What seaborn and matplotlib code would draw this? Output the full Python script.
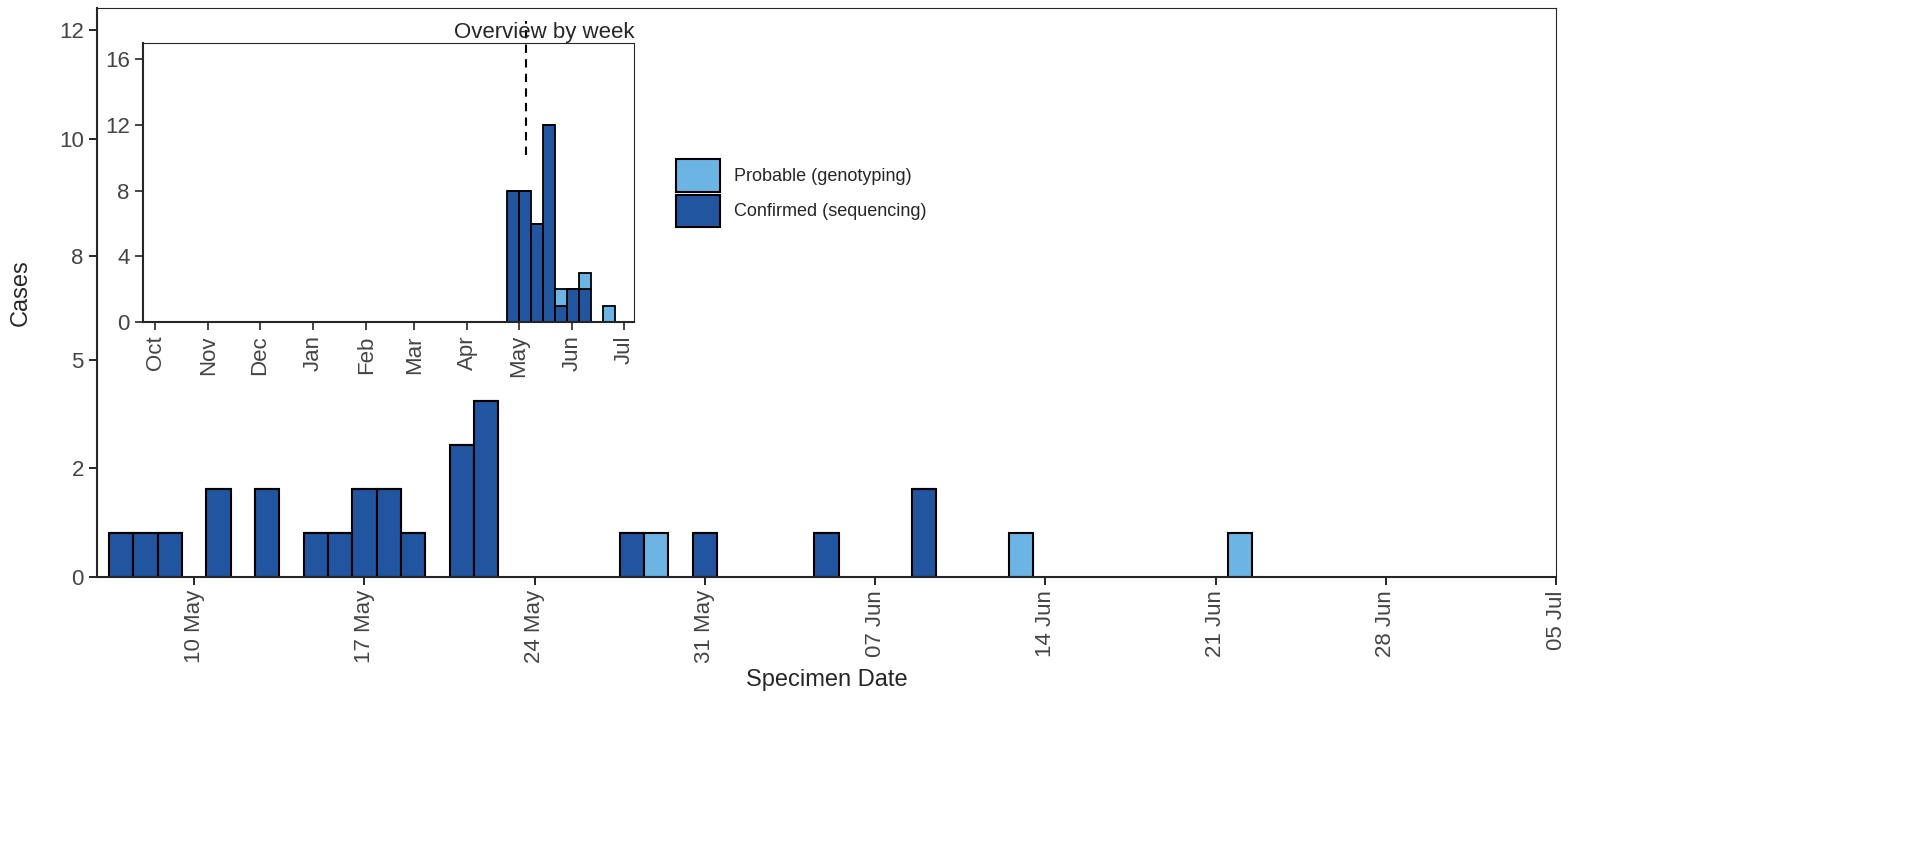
import matplotlib
matplotlib.use("Agg")
import matplotlib.pyplot as plt
import matplotlib.dates as mdates
import seaborn as sns
import numpy as np
import pandas as pd
from matplotlib.patches import Patch

sns.set_style("ticks")
plt.rcParams['font.family'] = ['Liberation Sans', 'DejaVu Sans']

DARK = "#2255A0"
LIGHT = "#6CB4E4"

# daily data (main chart)
daily_dates = ["2022-05-07","2022-05-08","2022-05-09","2022-05-11","2022-05-13","2022-05-15",
               "2022-05-16","2022-05-17","2022-05-18","2022-05-19","2022-05-21","2022-05-22",
               "2022-05-28","2022-05-29","2022-05-31","2022-06-05","2022-06-09","2022-06-13","2022-06-22"]
daily_confirmed = [1,1,1,2,2,1,1,2,2,1,3,4,1,0,1,1,2,0,0]
daily_probable  = [0,0,0,0,0,0,0,0,0,0,0,0,0,1,0,0,0,1,1]

# weekly data (inset)
week_dates = ["2022-04-24","2022-05-01","2022-05-08","2022-05-15","2022-05-22","2022-05-29","2022-06-05","2022-06-19"]
week_confirmed = [8,8,6,12,1,2,2,0]
week_probable  = [0,0,0,0,1,0,1,1]

main_ticks = [0, 2.48, 4.93, 7.3, 9.95, 12.43]
main_labels = ["0","2","5","8","10","12"]

fig = plt.figure(figsize=(19.19, 8.46), dpi=100)
W, H = 1919, 846
ax = fig.add_axes([97/W, 1-577/H, (1556-97)/W, (577-8)/H])

d = pd.to_datetime(daily_dates)
x = mdates.date2num(d)
c = np.array(daily_confirmed); p = np.array(daily_probable)
ax.bar(x, c, width=1, color=DARK, edgecolor="black", linewidth=1.5)
ax.bar(x, p, bottom=c, width=1, color=LIGHT, edgecolor="black", linewidth=1.5)
ax.set_xlim(mdates.date2num(pd.Timestamp("2022-05-06")), mdates.date2num(pd.Timestamp("2022-07-05")))
ax.set_ylim(0, 12.93)
ax.set_yticks(main_ticks, main_labels)
xt = pd.date_range("2022-05-10", "2022-07-05", freq="7D")
ax.set_xticks(mdates.date2num(xt), [t.strftime("%d %b") for t in xt], rotation=90)
ax.tick_params(labelsize=16, labelcolor="#444444", color="black", length=6, width=1.2)
for s in ax.spines.values():
    s.set_linewidth(0.8)
ax.spines['left'].set_linewidth(1.5); ax.spines['bottom'].set_linewidth(1.5)
ax.set_xlabel("Specimen Date", fontsize=17)
ax.set_ylabel("Cases", fontsize=17)
ax.yaxis.set_label_coords(-65/1459, 0.5)

leg = [Patch(facecolor=LIGHT, edgecolor="black", linewidth=1.5, label="Probable (genotyping)"),
       Patch(facecolor=DARK, edgecolor="black", linewidth=1.5, label="Confirmed (sequencing)")]
fig.legend(handles=leg, loc="upper left", bbox_to_anchor=(660/W, 1-143/H), frameon=False,
           fontsize=13, handlelength=2.4, handleheight=2.4, labelspacing=0.15)

ins = fig.add_axes([143/W, 1-322/H, (634-143)/W, (322-43)/H])
wd = pd.to_datetime(week_dates)
wx = mdates.date2num(wd)
wc = np.array(week_confirmed); wp = np.array(week_probable)
ins.bar(wx, wc, width=7, align="edge", color=DARK, edgecolor="black", linewidth=1.3)
ins.bar(wx, wp, bottom=wc, width=7, align="edge", color=LIGHT, edgecolor="black", linewidth=1.3)
ins.set_xlim(mdates.date2num(pd.Timestamp("2021-09-24")), mdates.date2num(pd.Timestamp("2022-07-07")))
ins.set_ylim(0, 17)
ins.set_yticks([0,4,8,12,16])
mt = pd.date_range("2021-10-01", "2022-07-01", freq="MS")
ins.set_xticks(mdates.date2num(mt), [t.strftime("%b") for t in mt], rotation=90)
ins.tick_params(labelsize=16, labelcolor="#444444", length=6, width=1.2)
for s in ins.spines.values():
    s.set_linewidth(0.8)
ins.spines['left'].set_linewidth(1.5); ins.spines['bottom'].set_linewidth(1.5)
ins.axvline(mdates.date2num(pd.Timestamp("2022-05-05")), ymin=0.6, ymax=1.08, color="black",
            linestyle=(0, (4, 3)), linewidth=1.5, clip_on=False)
ins.set_title("Overview by week", loc="right", fontsize=16, pad=1)

fig.savefig("out.png", dpi=100)
